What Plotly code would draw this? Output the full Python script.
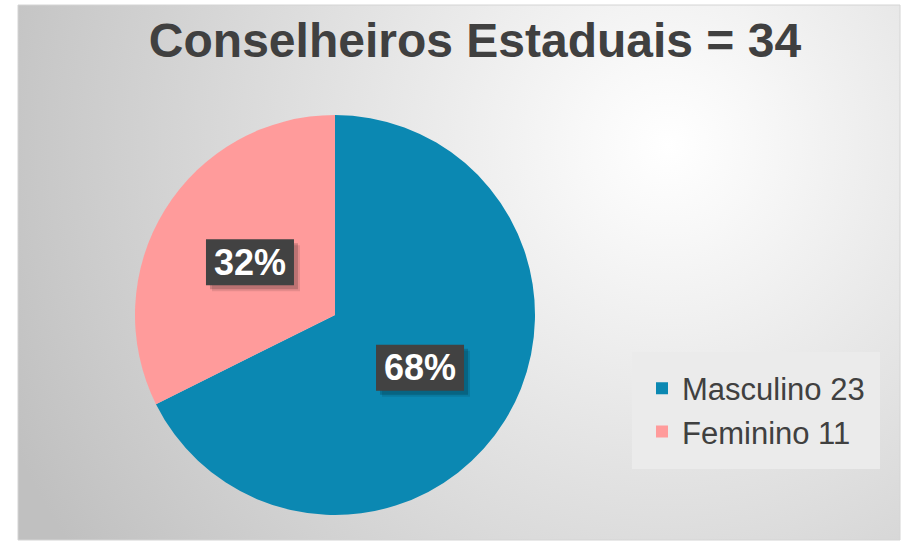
import math
import plotly.graph_objects as go

# ---- data ----
categories = ["Masculino", "Feminino"]
counts = [23, 11]
title_text = "Conselheiros Estaduais = 34"

colors = ["#0B88B2", "#FF9B9B"]

W, H = 903, 543
ML, MR, MT, MB = 18, 3, 5, 3
PW, PH = W - ML - MR, H - MT - MB

# pie geometry (pixels)
PCX, PCY, PR = 335, 315, 200
dom_x = [(PCX - PR - ML) / PW, (PCX + PR - ML) / PW]
dom_y = [1 - (PCY + PR - MT) / PH, 1 - (PCY - PR - MT) / PH]

labels = [f"{c} {v}" for c, v in zip(categories, counts)]
total = sum(counts)

fig = go.Figure()
fig.add_trace(go.Pie(
    labels=labels, values=counts, sort=False, direction="clockwise", rotation=0,
    marker=dict(colors=colors, line=dict(width=0)),
    textinfo="none", domain=dict(x=dom_x, y=dom_y), hole=0,
    hoverinfo="label+percent",
))

# percentage labels in dark boxes, positioned at half radius of each slice's mid-angle
cx_p = sum(dom_x) / 2
cy_p = sum(dom_y) / 2
cum = 0
annotations = []
shapes = []
BW, BH = 88, 46
for v in counts:
    mid = (cum + v / 2) / total * 2 * math.pi
    cum += v
    dx = 0.5 * PR * math.sin(mid)
    dy = 0.5 * PR * math.cos(mid)
    pct = f"{round(v / total * 100)}%"
    for off, col in [(6, "rgba(0,0,0,0.10)"), (4, "rgba(0,0,0,0.18)")]:
        shapes.append(dict(
            type="rect", xref="paper", yref="paper", xsizemode="pixel", ysizemode="pixel",
            xanchor=cx_p, yanchor=cy_p,
            x0=dx - BW / 2 + off, x1=dx + BW / 2 + off, y0=dy - BH / 2 - off, y1=dy + BH / 2 - off,
            fillcolor=col, line=dict(width=0), layer="above",
        ))
    shapes.append(dict(
        type="rect", xref="paper", yref="paper", xsizemode="pixel", ysizemode="pixel",
        xanchor=cx_p, yanchor=cy_p,
        x0=dx - BW / 2, x1=dx + BW / 2, y0=dy - BH / 2, y1=dy + BH / 2,
        fillcolor="#424242", line=dict(width=0), layer="above",
    ))
    annotations.append(dict(
        x=cx_p, y=cy_p, xref="paper", yref="paper", showarrow=False,
        xshift=dx, yshift=dy, yanchor="middle", xanchor="center",
        text=f"<b>{pct}</b>", font=dict(size=36, color="white", family="Arial, Liberation Sans"),
    ))

svg = (
    "<svg xmlns='http://www.w3.org/2000/svg' width='882' height='535' viewBox='0 0 882 535' preserveAspectRatio='none'>"
    "<defs><radialGradient id='g' gradientUnits='userSpaceOnUse' cx='650' cy='140' r='720'>"
    "<stop offset='0' stop-color='#ffffff'/><stop offset='0.12' stop-color='#f8f8f8'/>"
    "<stop offset='1' stop-color='#c0c0c0'/></radialGradient></defs>"
    "<rect x='0' y='0' width='882' height='535' fill='url(#g)'/></svg>"
)
bg_src = "data:image/svg+xml;charset=utf-8," + svg.replace("#", "%23").replace("<", "%3C").replace(">", "%3E")

shapes.insert(0, dict(type="rect", xref="paper", yref="paper", x0=0, y0=0, x1=1, y1=1,
                      line=dict(color="#d4d4d4", width=1), layer="below"))

fig.update_layout(
    width=W, height=H,
    margin=dict(l=ML, r=MR, t=MT, b=MB),
    paper_bgcolor="white", plot_bgcolor="rgba(0,0,0,0)",
    title=dict(text=f"<b>{title_text}</b>", x=475 / W, xref="container", xanchor="center",
               y=1 - 40 / H, yref="container", yanchor="middle",
               font=dict(size=48, color="#404040", family="Arial, Liberation Sans")),
    images=[dict(source=bg_src, xref="paper", yref="paper", x=0, y=1, sizex=1, sizey=1,
                 sizing="stretch", xanchor="left", yanchor="top", layer="below")],
    shapes=shapes,
    legend=dict(x=(632 - ML) / PW, y=1 - (410 - MT) / PH, xanchor="left", yanchor="middle",
                bgcolor="#ebebeb", bordercolor="#ebebeb", borderwidth=10,
                font=dict(size=31, color="#404040", family="Arial, Liberation Sans"),
                itemwidth=30, entrywidth=235, entrywidthmode="pixels"),
    annotations=annotations,
    showlegend=True,
)

fig.write_html("out.html", config={"displayModeBar": False},
               post_script="document.body.style.margin='0px';")
